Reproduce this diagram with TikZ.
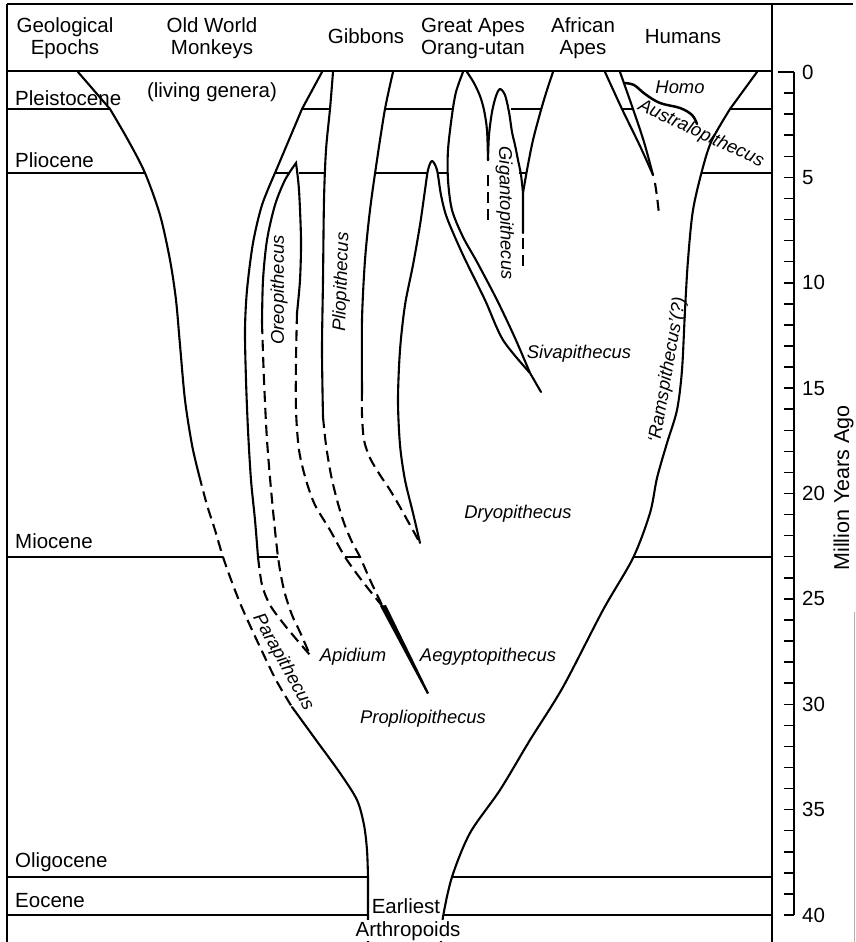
\documentclass[tikz,border=0pt]{standalone}
\usepackage{fontspec}
\setmainfont{Liberation Sans}
\begin{document}
\begin{tikzpicture}[x=1pt,y=-1pt,
  curve/.style={line width=2.1pt, line join=round, line cap=round},
  dsh/.style={line width=2.1pt, line join=round, dash pattern=on 11pt off 6pt},
  epoch/.style={line width=1.4pt},
  frm/.style={line width=2pt},
  scaletick/.style={line width=1.5pt},
  hdr/.style={font=\fontsize{20.5}{21.5}\selectfont, align=center, inner sep=0pt},
  ep/.style={font=\fontsize{20.5}{21.5}\selectfont, anchor=base west, inner sep=0pt},
  gen/.style={font=\fontsize{18.4}{19}\selectfont\itshape, inner sep=0pt},
  genb/.style={gen, anchor=base},
  num/.style={font=\fontsize{20.5}{21.5}\selectfont, anchor=west, inner sep=0pt},
]
\useasboundingbox (0,0) rectangle (856,942);

% frame
\draw[frm] (7,4) -- (7,942);
\draw[frm] (7,4) -- (853,4);
\draw[frm] (772,4) -- (772,942);
\draw[gray!60, line width=0.8pt] (854,612) -- (854,942);

% epoch boundaries
\draw[epoch] (7,71) -- (772,71);
\draw[epoch] (7,109) -- (110,109) (302,109) -- (330,109) (385,109) -- (452,109)
  (511,109) -- (541,109) (622,109) -- (633,109) (730,109) -- (772,109);
\draw[epoch] (7,173) -- (145,173) (275,173) -- (290,173) (299,173) -- (324,173)
  (375,173) -- (427,173) (438,173) -- (448,173) (519,173) -- (526,173) (702,173) -- (772,173);
\draw[epoch] (7,557) -- (223,557) (258,557) -- (278,557) (345,557) -- (360,557) (634,557) -- (772,557);
\draw[epoch] (7,877) -- (368,877) (452,877) -- (772,877);
\draw[epoch] (7,915) -- (368,915) (443,915) -- (772,915);

% time scale
\draw[frm] (794,72) -- (794,915);
\draw[scaletick] (778,72) -- (794,72);
\foreach \k in {1,...,40} \draw[scaletick] (784,{72+21.075*\k}) -- (794,{72+21.075*\k});
\foreach \k in {0,5,...,40} \node[num] (n\k) at (802,{72+21.075*\k}) {\k};
\node[font=\fontsize{21.5}{22}\selectfont, rotate=90, anchor=base, inner sep=0pt] (mya) at (849,488) {Million Years Ago};

% left outer boundary (Old World Monkeys / Parapithecus)
\draw[curve] (78,72) -- plot[smooth,tension=0.5] coordinates {(110,109) (128,140) (145,173) (160,215) (170,260) (176,300) (180,345) (185,400) (192,445) (199,475)};
\draw[dsh] plot[smooth,tension=0.5] coordinates {(199,475) (207,505) (215,530) (223,557) (233,585) (243,610) (260,647) (276,680) (292,707)};
\draw[curve] plot[smooth,tension=0.5] coordinates {(292,707) (316,740) (340,773) (357,800) (364,825) (367,850) (368,877)} -- (368,942);

% Old World Monkeys right boundary
\draw[curve] (322,72) -- (302,109) -- plot[smooth,tension=0.5] coordinates {(275,173) (262,205) (253,243) (247,290) (245,330) (246,380) (248,430) (251,480) (255,520) (258,557)};
\draw[dsh] plot[smooth,tension=0.5] coordinates {(258,557) (262,585) (270,605) (283,623) (297,640) (310,655)};

% Oreopithecus
\draw[curve, line join=miter] plot[smooth,tension=0.5] coordinates {(262,323) (263,280) (267,240) (275,205) (285,180) (296,163)} -- plot[smooth,tension=0.5] coordinates {(296,163) (299,190) (301,240) (300,280) (297,313)};
\draw[dsh] plot[smooth,tension=0.5] coordinates {(262,323) (264,380) (267,440) (272,500) (278,557) (284,590) (292,615) (300,632) (310,655)};
\draw[dsh] plot[smooth,tension=0.5] coordinates {(297,313) (296,360) (296,410) (299,450) (306,480) (315,505) (330,530) (345,557) (363,582) (383,607)};

% Pliopithecus
\draw[curve] plot[smooth,tension=0.5] coordinates {(333,72) (330,109) (326,150) (324,200) (323,280) (322,350) (323,417)};
\draw[dsh] plot[smooth,tension=0.5] coordinates {(323,417) (326,445) (331,475) (337,500) (344,523) (352,542) (360,557) (371,582) (383,607)};
\draw[curve] plot[smooth,tension=0.5] coordinates {(393,72) (385,109) (377,160) (370,210) (365,260) (362,320) (362,390)};
\draw[dsh] plot[smooth,tension=0.5] coordinates {(362,390) (362,415) (364,440) (370,458) (380,475) (390,490) (400,507) (410,525) (420,543)};
\fill (380,606) -- (386,605) -- (429,693) -- (427,694) -- cycle;

% Dryopithecus - Sivapithecus
\draw[curve] plot[smooth,tension=0.5] coordinates {(420,543) (413,513) (405,480) (400,445) (398,400) (400,350) (405,305) (413,265) (420,225) (425,190) (428,170) (432,161) (437,170) (441,195) (447,218) (463,255) (485,300) (503,340) (530,373)} -- (541,392);

% Orang-utan
\draw[curve] plot[smooth,tension=0.5] coordinates {(530,373) (515,338) (497,300) (477,262) (463,237) (452,210) (448,180) (448,150) (452,115) (456,92) (463,72)};
\draw[curve] plot[smooth,tension=0.5] coordinates {(467,72) (474,83) (480,96) (484,110) (487,130) (488,160)};
\draw[dsh] (488,175) -- (488,220);

% Gigantopithecus
\draw[curve] plot[smooth,tension=0.5] coordinates {(488,160) (489,135) (492,112) (496,96) (500,89) (505,95) (509,112) (512,132) (515,145) (518,160) (521,175) (523,193)} -- (523,233);
\draw[dsh] (523,238) -- (523,266);

% African apes
\draw[curve] plot[smooth,tension=0.5] coordinates {(553,72) (547,90) (541,110) (533,140) (527,170) (523,193)};

% Humans
\draw[curve] plot[smooth,tension=0.5] coordinates {(605,72) (622,109) (640,146) (653,175)};
\draw[curve] plot[smooth,tension=0.5] coordinates {(620,72) (633,109) (644,142) (653,175)};
\draw[dsh] (655,183) .. controls (657,196) .. (659,214);
\draw[curve, line width=2.5pt] plot[smooth,tension=0.6] coordinates {(624,83) (634,85) (645,94) (660,103) (680,108) (692,115) (697,124)};

% right outer boundary
\draw[curve] (757,72) -- plot[smooth,tension=0.5] coordinates {(730,109) (712,140) (703,167) (693,210) (688,260) (685,310) (682,370) (677,410) (667,443) (657,478) (650,513) (633,558) (603,610) (563,687) (530,740) (500,790) (470,833) (452,877) (443,917) (441,942)};

% header
\node[hdr] (hgeo) at (65,38.4) {Geological\\Epochs};
\node[hdr] (howm) at (212,38.4) {Old World\\Monkeys};
\node[hdr, anchor=base] (hgib) at (366,43.5) {Gibbons};
\node[hdr] (hga) at (473,38.4) {Great Apes\\Orang-utan};
\node[hdr] (haa) at (583,38.4) {African\\Apes};
\node[hdr, anchor=base] (hhum) at (683,44) {Humans};

% epochs
\node[ep] (e1) at (15,105) {Pleistocene};
\node[ep] (e2) at (15,167) {Pliocene};
\node[ep] (e3) at (15,548) {Miocene};
\node[ep] (e4) at (15,867) {Oligocene};
\node[ep] (e5) at (15,907) {Eocene};
\node[hdr, anchor=base] (liv) at (212,97) {(living genera)};
\node[hdr, anchor=base] (earl) at (406,913) {Earliest};
\node[hdr, anchor=base, fill=white, inner sep=1pt] (arth) at (408,936) {Arthropoids};

% genera
\node[genb] (homo) at (680,93) {Homo};
\node[genb] (siva) at (579,358) {Sivapithecus};
\node[genb] (dryo) at (518,518) {Dryopithecus};
\node[genb] (apid) at (353,661) {Apidium};
\node[genb] (aegy) at (488,661) {Aegyptopithecus};
\node[genb] (prop) at (423,723) {Propliopithecus};
\node[gen, rotate=90] (oreo) at (279,290) {Oreopithecus};
\node[gen, rotate=88] (plio) at (342,282) {Pliopithecus};
\node[gen, rotate=-89] (giga) at (505,213) {Gigantopithecus};
\node[gen, rotate=80] (rams) at (668,370) {‘Ramspithecus’(?)};
\node[gen, rotate=-61] (para) at (283,662) {Parapithecus};
\node[gen, rotate=-25] (aust) at (701,134) {Australopithecus};

\end{tikzpicture}
\end{document}
